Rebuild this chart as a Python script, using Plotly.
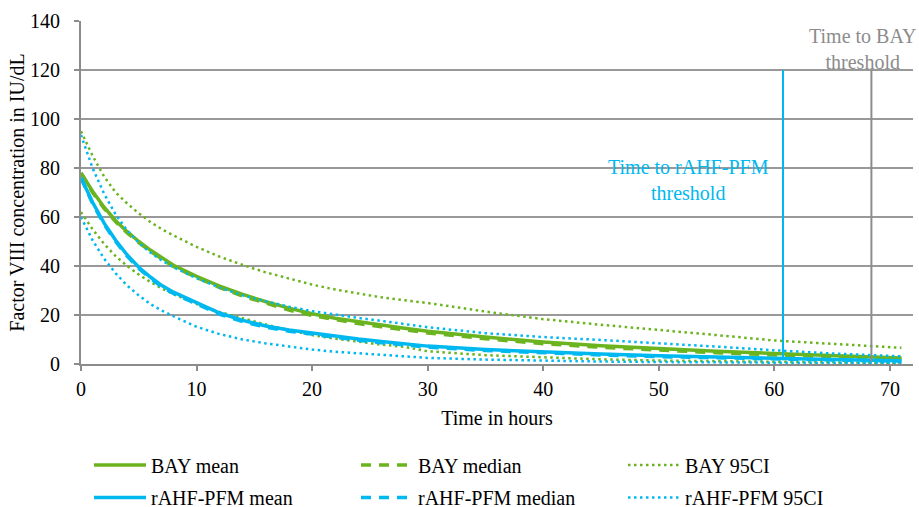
import plotly.graph_objects as go

# ---- data ----
t = [0, 1, 2, 3, 4, 5, 6, 7, 8, 10, 12, 14, 16, 18, 20, 22, 24, 26, 28, 30,
     35, 40, 45, 50, 55, 60, 65, 71]

bay_mean = [78, 70.5, 64, 58.5, 54, 50, 46.5, 43.2, 40.3, 35.8, 31.8, 28.4, 25.4, 22.8,
            20.5, 18.7, 17.2, 15.9, 14.6, 13.4, 11.0, 9.0, 7.5, 6.3, 5.2, 4.3, 3.4, 2.5]
bay_median = [78, 70, 63.5, 58, 53.5, 49.5, 46, 42.7, 39.8, 35.3, 31.2, 27.7, 24.7, 22.0,
              19.8, 18.0, 16.5, 15.2, 13.9, 12.7, 10.3, 8.3, 6.8, 5.6, 4.6, 3.7, 2.9, 2.1]
bay_ci_hi = [95, 85, 76.5, 70, 65.5, 61.5, 58, 55, 52.5, 47.8, 43.8, 40.4, 37.4, 34.8,
             32.4, 30.4, 28.7, 27.2, 26.0, 24.9, 21.4, 18.3, 16.0, 14.0, 11.8, 9.6, 8.1, 6.6]
bay_ci_lo = [62, 55, 49, 44, 40, 36.5, 33.5, 30.8, 28.5, 24.5, 21.2, 18.5, 16.1, 13.8,
             11.8, 10.3, 9.0, 7.9, 7.0, 5.2, 3.6, 2.6, 1.9, 1.4, 1.1, 0.8, 0.6, 0.4]

pfm_mean = [76, 66, 57.5, 50.5, 44.5, 39.5, 35.5, 32, 29.3, 24.9, 20.8, 17.8, 15.5, 13.9,
            12.6, 11.3, 10.2, 9.2, 8.2, 7.3, 5.9, 4.9, 4.1, 3.4, 2.8, 2.2, 1.8, 1.3]
pfm_median = [76, 65.5, 57, 50, 44, 39, 35, 31.5, 28.8, 24.4, 20.3, 17.3, 15.0, 13.4,
              12.1, 10.8, 9.7, 8.7, 7.8, 6.9, 5.5, 4.5, 3.7, 3.0, 2.5, 1.9, 1.5, 1.1]
pfm_ci_hi = [93.5, 80, 69.5, 61, 54.5, 49.5, 45.5, 42.2, 39.5, 35, 31.2, 28, 25.6, 23.4,
             21.6, 20.1, 18.8, 17.6, 16.3, 15.0, 12.6, 11.0, 9.8, 8.6, 7.1, 5.6, 4.3, 3.1]
pfm_ci_lo = [60, 50.5, 43, 37, 32, 28, 24.5, 21.8, 19.5, 15.2, 12.2, 10.0, 8.4, 7.0,
             5.9, 5.0, 4.3, 3.7, 3.1, 2.5, 1.8, 1.3, 1.0, 0.8, 0.6, 0.5, 0.4, 0.3]

pfm_threshold_t = [60.75, 60.75]
pfm_threshold_y = [1.5, 120]
bay_threshold_t = [68.4, 68.4]
bay_threshold_y = [1.0, 120]

x_ticks = [0, 10, 20, 30, 40, 50, 60, 70]
y_ticks = [0, 20, 40, 60, 80, 100, 120, 140]

GREEN = "#6BB41F"
BLUE = "#00B8F0"
GRAY = "#8C8C8C"
FONT = "Liberation Serif, Times New Roman, serif"
FS = 20

fig = go.Figure()

def add(y, name, color, dash, width, legend):
    fig.add_trace(go.Scatter(x=t, y=y, name=name, mode="lines",
                             line=dict(color=color, dash=dash, width=width),
                             legend=legend))

DOT = "2.5px,3.5px"
DASH = "10px,8px"
add(bay_mean, "BAY mean", GREEN, "solid", 3.5, "legend")
add(bay_median, "BAY median", GREEN, DASH, 3.5, "legend")
add(bay_ci_hi, "BAY 95CI", GREEN, DOT, 2.5, "legend")
fig.add_trace(go.Scatter(x=t, y=bay_ci_lo, name="BAY 95CI", mode="lines",
                         line=dict(color=GREEN, dash=DOT, width=2.5), showlegend=False))
add(pfm_mean, "rAHF-PFM mean", BLUE, "solid", 3.5, "legend2")
add(pfm_median, "rAHF-PFM median", BLUE, DASH, 3.5, "legend2")
add(pfm_ci_hi, "rAHF-PFM 95CI", BLUE, DOT, 2.5, "legend2")
fig.add_trace(go.Scatter(x=t, y=pfm_ci_lo, name="rAHF-PFM 95CI", mode="lines",
                         line=dict(color=BLUE, dash=DOT, width=2.5), showlegend=False))

fig.add_trace(go.Scatter(x=pfm_threshold_t, y=pfm_threshold_y, mode="lines",
                         line=dict(color=BLUE, width=2), showlegend=False))
fig.add_trace(go.Scatter(x=bay_threshold_t, y=bay_threshold_y, mode="lines",
                         line=dict(color=GRAY, width=2), showlegend=False))

fig.add_annotation(x=52.55, y=75, xref="x", yref="y", text="Time to rAHF-PFM<br>threshold",
                   showarrow=False, font=dict(family=FONT, size=FS, color=BLUE))
fig.add_annotation(x=67.6, y=128.4, xref="x", yref="y", text="Time to BAY<br>threshold",
                   showarrow=False, font=dict(family=FONT, size=FS, color=GRAY))

leg_common = dict(orientation="h", xref="container", yref="container",
                  xanchor="left", yanchor="middle", entrywidth=200,
                  entrywidthmode="pixels", itemwidth=52,
                  font=dict(family=FONT, size=FS, color="#000"),
                  bgcolor="rgba(0,0,0,0)", tracegroupgap=0)

fig.update_layout(
    width=919, height=507,
    margin=dict(l=81, r=6, t=20.5, b=142.5, autoexpand=False),
    paper_bgcolor="white", plot_bgcolor="white",
    font=dict(family=FONT, size=FS, color="#000"),
    legend=dict(x=89 / 919, y=1 - 465 / 507, **leg_common),
    legend2=dict(x=89 / 919, y=1 - 497.5 / 507, **leg_common),
    xaxis=dict(range=[0, 72], tickvals=x_ticks, showgrid=False, zeroline=False,
               automargin=False,
               showline=True, linecolor=GRAY, linewidth=2,
               ticks="outside", ticklen=5, tickcolor=GRAY, tickwidth=1.5,
               ticklabelstandoff=1,
               title=dict(text="Time in hours", standoff=12,
                          font=dict(family=FONT, size=FS))),
    yaxis=dict(range=[0, 140], tickvals=y_ticks, showgrid=True, gridcolor="#999999",
               automargin=False,
               gridwidth=1.5, zeroline=False, showline=True, linecolor=GRAY, linewidth=2,
               ticks="outside", ticklen=5, tickcolor=GRAY, tickwidth=1.5,
               ticklabelstandoff=10,
               title=dict(text="Factor VIII concentration in IU/dL", standoff=0,
                          font=dict(family=FONT, size=FS))),
)

fig.write_html("out.html", config={"displayModeBar": False},
               post_script="document.body.style.margin='0';document.body.style.overflow='hidden';")
